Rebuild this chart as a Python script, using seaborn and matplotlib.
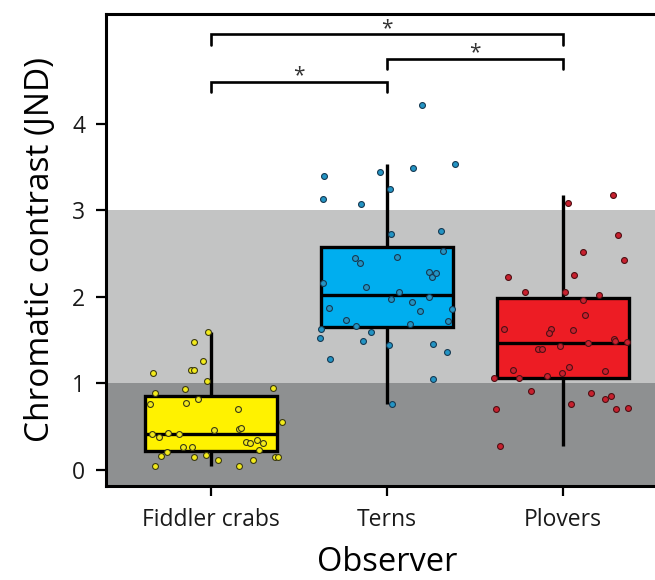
import numpy as np
import pandas as pd
import matplotlib
matplotlib.use("Agg")
import matplotlib.pyplot as plt
import seaborn as sns

# ---------------- data ----------------
categories = ["Fiddler crabs", "Terns", "Plovers"]

crab_values = [1.59, 1.48, 1.26, 1.16, 1.15, 1.12, 1.03, 0.89, 0.94, 0.95, 0.82, 0.76, 0.77,
               0.70, 0.56, 0.46, 0.47, 0.49, 0.42, 0.38, 0.43, 0.42, 0.26, 0.26, 0.32, 0.31,
               0.35, 0.31, 0.23, 0.21, 0.16, 0.15, 0.17, 0.12, 0.12, 0.15, 0.15, 0.05, 0.05]
crab_jitter = [-0.015, -0.097, -0.047, -0.115, -0.097, -0.330, -0.021, -0.318, -0.146, 0.354,
               -0.072, -0.347, -0.142, 0.152, 0.402, 0.015, 0.157, 0.170, -0.335, -0.294,
               -0.244, -0.184, -0.157, -0.106, 0.197, 0.223, 0.260, 0.295, 0.274, -0.252,
               -0.284, -0.097, -0.027, 0.040, 0.239, 0.362, 0.381, -0.320, 0.159]

tern_values = [4.21, 3.39, 3.13, 3.44, 3.49, 3.53, 3.25, 3.07, 2.76, 2.72, 2.53, 2.45, 2.39,
               2.46, 2.29, 2.23, 2.27, 2.16, 2.11, 2.05, 1.97, 1.94, 2.00, 1.87, 1.84, 1.86,
               1.73, 1.66, 1.69, 1.72, 1.63, 1.52, 1.59, 1.49, 1.44, 1.46, 1.36, 1.28, 1.05, 0.76]
tern_jitter = [0.201, -0.358, -0.365, -0.041, 0.149, 0.388, 0.015, -0.149, 0.309, 0.024,
               0.320, -0.180, -0.155, 0.055, 0.240, 0.254, 0.280, -0.365, -0.119, 0.070,
               0.024, 0.142, 0.240, -0.331, 0.189, 0.369, -0.233, -0.176, 0.132, 0.348,
               -0.375, -0.382, -0.091, -0.136, 0.010, 0.263, 0.341, -0.322, 0.261, 0.028]

plover_values = [3.18, 3.08, 2.71, 2.52, 2.42, 2.23, 2.25, 2.06, 2.06, 2.02, 1.96, 1.79, 1.63,
                 1.63, 1.58, 1.62, 1.51, 1.49, 1.48, 1.47, 1.43, 1.40, 1.40, 1.19, 1.16, 1.12,
                 1.08, 1.14, 1.06, 1.06, 0.91, 0.89, 0.82, 0.86, 0.70, 0.72, 0.71, 0.76, 0.28]
plover_jitter = [0.286, 0.028, 0.313, 0.112, 0.347, -0.311, 0.061, -0.218, 0.011, 0.205,
                 0.114, 0.123, -0.335, -0.070, -0.078, 0.057, 0.288, 0.297, 0.362, 0.140,
                 -0.017, -0.140, -0.118, 0.034, -0.286, -0.004, -0.093, 0.239, -0.390, -0.248,
                 -0.182, 0.157, 0.239, 0.273, 0.303, 0.371, -0.381, 0.044, -0.358]

# significance comparisons: (group a, group b, bracket height)
comparisons = [(0, 2, 5.03), (1, 2, 4.75), (0, 1, 4.48)]
sig_labels = ["*", "*", "*"]

# threshold bands
band_low = 1.0
band_high = 3.0

# ---------------- styling ----------------
box_colors = ["#fff200", "#00aeef", "#ed1c24"]
pt_colors = ["#f2ea1c", "#2394c4", "#c8202e"]
pt_edges = ["#3b3a14", "#173a52", "#4e1014"]
dark_gray = "#8e9091"
light_gray = "#c3c4c4"

sns.set_theme(style="white")
plt.rcParams["font.family"] = ["Open Sans", "DejaVu Sans"]

values_all = [crab_values, tern_values, plover_values]
jitter_all = [crab_jitter, tern_jitter, plover_jitter]
df = pd.DataFrame({
    "Observer": np.repeat(categories, [len(v) for v in values_all]),
    "value": np.concatenate(values_all),
    "jit": np.concatenate(jitter_all),
})
df["xpos"] = df["Observer"].map({c: i for i, c in enumerate(categories)}) + df["jit"]

fig = plt.figure(figsize=(6.55, 5.80), dpi=100)
ax = fig.add_axes([0.1618, 0.162, 0.858, 0.814])

ylo, yhi = -0.185, 5.266
ax.axhspan(ylo, band_low, color=dark_gray, zorder=0, lw=0)
ax.axhspan(band_low, band_high, color=light_gray, zorder=0, lw=0)

sns.boxplot(data=df, x="Observer", y="value", order=categories, hue="Observer",
            hue_order=categories, palette=box_colors, legend=False, width=0.75,
            linecolor="black", linewidth=2.4, fliersize=0, showcaps=False,
            saturation=1, ax=ax, zorder=2)

for i, c in enumerate(categories):
    sub = df[df["Observer"] == c]
    sns.scatterplot(x=sub["xpos"], y=sub["value"], color=pt_colors[i], edgecolor=pt_edges[i],
                    linewidth=0.8, s=18, ax=ax, zorder=4, legend=False)

# significance brackets
tick_h = 0.12
for (a, b, h), lab in zip(comparisons, sig_labels):
    ax.plot([a, a, b, b], [h - tick_h, h, h, h - tick_h], color="black", lw=1.9,
            solid_joinstyle="miter", zorder=5, clip_on=False)
    ax.text((a + b) / 2, h + 0.005, lab, ha="center", va="baseline", fontsize=15,
            color="#333333", zorder=5)

ax.set_xlim(-0.597, 2.597)
ax.set_ylim(ylo, yhi)
ax.set_yticks([0, 1, 2, 3, 4])
ax.set_yticklabels(["0", "1", "2", "3", "4"])
ax.set_xticks([0, 1, 2])
ax.set_xticklabels(categories)

ax.tick_params(axis="both", which="both", direction="out", length=7, width=1.6,
               color="black", labelsize=16.5, labelcolor="#1a1a1a",
               bottom=True, left=True)
ax.tick_params(axis="x", pad=9)
ax.tick_params(axis="y", pad=8)
ax.set_xlabel("Observer", fontsize=23.5, color="black", labelpad=10)
ax.set_ylabel("Chromatic contrast (JND)", fontsize=24, color="black", labelpad=11)

for side in ["left", "bottom", "top", "right"]:
    ax.spines[side].set_visible(True)
    ax.spines[side].set_color("black")
    ax.spines[side].set_linewidth(2.2)

fig.savefig("out.png", dpi=100)
